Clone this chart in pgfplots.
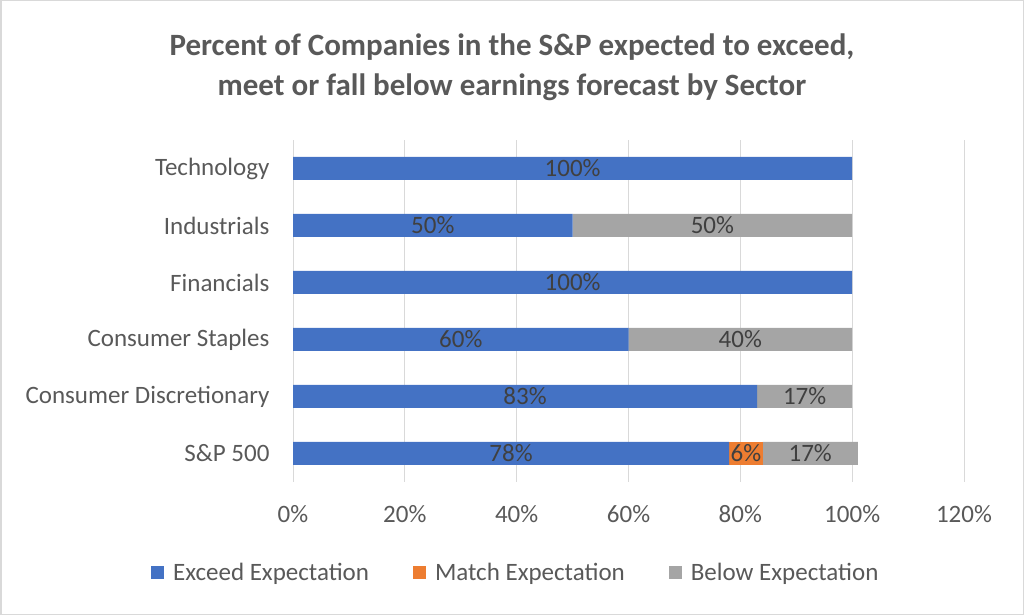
\documentclass[border=0pt]{standalone}
\usepackage{pgfplots}
\pgfplotsset{compat=1.18}
\usepackage{pgfplotstable}
\usepackage{fontspec}
\setmainfont{Carlito}
\definecolor{cblue}{HTML}{4472C4}
\definecolor{corange}{HTML}{ED7D31}
\definecolor{cgray}{HTML}{A5A5A5}
\definecolor{gridgray}{HTML}{D9D9D9}
\definecolor{labelgray}{HTML}{595959}
\definecolor{datagray}{HTML}{404040}
\definecolor{framegray}{HTML}{D9D9D9}

\pgfplotstableread{
y exceed match below
0 78 6 17
1 83 0 17
2 60 0 40
3 100 0 0
4 50 0 50
5 100 0 0
}\datatable

\pgfplotstableread{
x y lab
39 0 78
81 0 6
92.5 0 17
41.5 1 83
91.5 1 17
30 2 60
80 2 40
50 3 100
25 4 50
75 4 50
50 5 100
}\labeltable

\begin{document}
\begin{tikzpicture}[x=1pt,y=1pt]
\useasboundingbox (0,0) rectangle (1024,615);
\draw[color=framegray, line width=1.5pt] (0.75,0.75) rectangle (1023.25,614.25);
\node[font=\fontsize{31}{40}\selectfont\bfseries, text=labelgray, align=center] at (512,548)
  {Percent of Companies in the S\&P expected to exceed,\\meet or fall below earnings forecast by Sector};

\begin{axis}[
  at={(293pt,133pt)}, anchor=south west, scale only axis,
  width=671pt, height=342pt,
  xbar stacked, bar width=23pt,
  xmin=0, xmax=120, ymin=-0.5, ymax=5.5,
  ytick={0,...,5},
  yticklabels={S\&P 500, Consumer Discretionary, Consumer Staples, Financials, Industrials, Technology},
  xtick={0,20,...,120},
  /pgf/number format/assume math mode=true,
  xticklabel={\pgfmathprintnumber{\tick}\%},
  axis line style={draw=none},
  major tick length=0pt,
  xmajorgrids,
  grid style={color=gridgray, line width=1pt},
  tick label style={font=\fontsize{25}{30}\selectfont, text=labelgray},
  yticklabel style={xshift=-20pt},
  xticklabel style={yshift=-20pt},
  legend style={at={(0.332,-0.266)}, anchor=center, legend columns=3, draw=none,
    font=\fontsize{25}{30}\selectfont, text=labelgray,
    /tikz/every odd column/.append style={column sep=7pt},
    /tikz/every even column/.append style={column sep=42pt}},
  legend image code/.code={\fill[#1] (0pt,-6.5pt) rectangle (13pt,6.5pt);},
]
\addplot[fill=cblue, draw=none] table[x=exceed, y=y] {\datatable};
\addlegendentry{Exceed Expectation}
\addplot[fill=corange, draw=none] table[x=match, y=y] {\datatable};
\addlegendentry{Match Expectation}
\addplot[fill=cgray, draw=none] table[x=below, y=y] {\datatable};
\addlegendentry{Below Expectation}
\end{axis}

\begin{axis}[
  at={(293pt,133pt)}, anchor=south west, scale only axis,
  width=671pt, height=342pt,
  xmin=0, xmax=120, ymin=-0.5, ymax=5.5,
  hide axis,
]
\addplot[only marks, mark=none, point meta=explicit,
  nodes near coords={\pgfmathprintnumber[assume math mode=true]{\pgfplotspointmeta}\%},
  nodes near coords align=center,
  every node near coord/.append style={font=\fontsize{25}{30}\selectfont, text=datagray, anchor=center}]
  table[x=x, y=y, meta=lab] {\labeltable};
\end{axis}
\end{tikzpicture}
\end{document}
